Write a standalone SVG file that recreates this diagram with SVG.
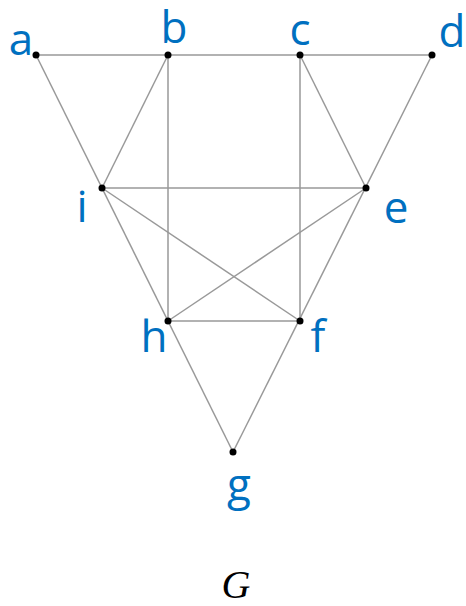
<svg xmlns="http://www.w3.org/2000/svg" width="466" height="606" viewBox="0 0 466 606">
<style>
.e{stroke:#999;stroke-width:1.5;fill:none}
.n{fill:#000}
.l{font-family:"Open Sans","Noto Sans",sans-serif;font-size:44px;fill:#0070C0;text-anchor:middle}
.t{font-family:"Liberation Serif",serif;font-style:italic;font-size:40px;fill:#000;text-anchor:middle}
</style>
<g id="edges">
<line class="e" x1="36" y1="55" x2="432" y2="55"/>
<line class="e" x1="36" y1="55" x2="233" y2="452"/>
<line class="e" x1="432" y1="55" x2="233" y2="452"/>
<line class="e" x1="168" y1="55" x2="102" y2="188"/>
<line class="e" x1="168" y1="55" x2="168" y2="321"/>
<line class="e" x1="300" y1="55" x2="300" y2="321"/>
<line class="e" x1="300" y1="55" x2="366" y2="188"/>
<line class="e" x1="102" y1="188" x2="366" y2="188"/>
<line class="e" x1="102" y1="188" x2="300" y2="321"/>
<line class="e" x1="366" y1="188" x2="168" y2="321"/>
<line class="e" x1="168" y1="321" x2="300" y2="321"/>
</g>
<g id="a"><circle class="n" cx="36" cy="55" r="3.5"/><text class="l" x="21" y="55">a</text></g>
<g id="b"><circle class="n" cx="168" cy="55" r="3.5"/><text class="l" x="174" y="43">b</text></g>
<g id="c"><circle class="n" cx="300" cy="55" r="3.5"/><text class="l" x="300" y="45">c</text></g>
<g id="d"><circle class="n" cx="432" cy="55" r="3.5"/><text class="l" x="452" y="47">d</text></g>
<g id="i"><circle class="n" cx="102" cy="188" r="3.5"/><text class="l" x="82" y="222">i</text></g>
<g id="e"><circle class="n" cx="366" cy="188" r="3.5"/><text class="l" x="396" y="223">e</text></g>
<g id="h"><circle class="n" cx="168" cy="321" r="3.5"/><text class="l" x="154" y="352">h</text></g>
<g id="f"><circle class="n" cx="300" cy="321" r="3.5"/><text class="l" x="318" y="352">f</text></g>
<g id="g"><circle class="n" cx="233" cy="452" r="3.5"/><text class="l" x="239" y="500">g</text></g>
<text class="t" x="236" y="598">G</text>
</svg>
